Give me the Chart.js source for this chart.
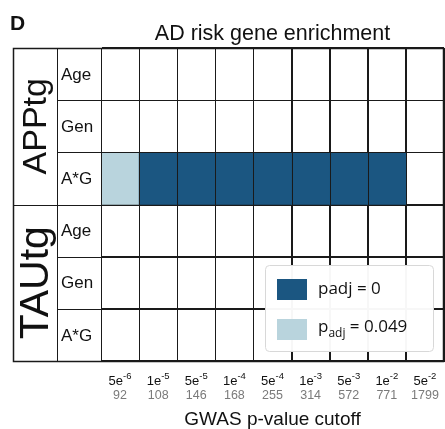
<!DOCTYPE html>
<html>
<head>
<meta charset="utf-8">
<script src="https://cdn.jsdelivr.net/npm/chart.js@4.4.1/dist/chart.umd.min.js"></script>
<style>
  html, body { margin: 0; padding: 0; background: #fff; }
  #wrap { width: 445px; height: 429px; position: relative; }
</style>
</head>
<body>
<div id="wrap"><canvas id="c" width="445" height="429"></canvas></div>
<script>
// ---- data ----
const panelLetter = "D";
const chartTitle = "AD risk gene enrichment";
const xTitle = "GWAS p-value cutoff";
const cutoffMantissa = ["5e", "1e", "5e", "1e", "5e", "1e", "5e", "1e", "5e"];
const cutoffExponent = ["-6", "-5", "-5", "-4", "-4", "-3", "-3", "-2", "-2"];
const geneCounts = [92, 108, 146, 168, 255, 314, 572, 771, 1799];
const groups = ["APPtg", "TAUtg"];
const terms = ["Age", "Gen", "A*G"];
// padj per cell (null = not significant / blank)
const padjAPPtgAge = [null, null, null, null, null, null, null, null, null];
const padjAPPtgGen = [null, null, null, null, null, null, null, null, null];
const padjAPPtgAxG = [0.049, 0, 0, 0, 0, 0, 0, 0, null];
const padjTAUtgAge = [null, null, null, null, null, null, null, null, null];
const padjTAUtgGen = [null, null, null, null, null, null, null, null, null];
const padjTAUtgAxG = [null, null, null, null, null, null, null, null, null];
const legendValues = [0, 0.049];

const DARK = "#1b5681";
const LIGHT = "#b9d4dd";
const colorFor = v => (v === 0 ? DARK : LIGHT);

const rowKeys = [];
groups.forEach(g => terms.forEach(t => rowKeys.push(g + "|" + t)));
const rowValues = [padjAPPtgAge, padjAPPtgGen, padjAPPtgAxG, padjTAUtgAge, padjTAUtgGen, padjTAUtgAxG];

function cellsFor(level) {
  const out = [];
  rowValues.forEach((vals, r) => {
    vals.forEach((v, c) => {
      if (v !== null && v === level) out.push({ x: [c, c + 1], y: rowKeys[r] });
    });
  });
  return out;
}

const datasets = legendValues.map(lv => ({
  label: "padj = " + lv,
  data: cellsFor(lv),
  backgroundColor: colorFor(lv),
  borderWidth: 0,
  barPercentage: 1,
  categoryPercentage: 1,
  grouped: false
}));

const SANS = "'Liberation Sans', Arial, Helvetica, sans-serif";
const LINE = "#1a1a1a";

const decor = {
  id: "decor",
  afterDatasetsDraw(chart) {
    const ctx = chart.ctx;
    const xs = chart.scales.x, ys = chart.scales.y;
    const area = chart.chartArea;
    ctx.save();
    ctx.strokeStyle = LINE;
    ctx.lineWidth = 1;
    ctx.beginPath();
    for (let c = 0; c <= cutoffMantissa.length; c++) {
      const x = Math.round(xs.getPixelForValue(c)) + 0.5;
      ctx.moveTo(x, area.top); ctx.lineTo(x, area.bottom);
    }
    const rowH = ys.getPixelForValue(1) - ys.getPixelForValue(0);
    for (let i = 0; i <= rowKeys.length; i++) {
      const y = Math.round(ys.getPixelForValue(i) - rowH / 2) + 0.5;
      ctx.moveTo(area.left, y); ctx.lineTo(area.right, y);
    }
    ctx.stroke();
    ctx.restore();
  },
  afterDraw(chart) {
    const ctx = chart.ctx;
    const xs = chart.scales.x, ys = chart.scales.y;
    const area = chart.chartArea;
    const rowH = ys.getPixelForValue(1) - ys.getPixelForValue(0);
    const rowTop = i => ys.getPixelForValue(i) - rowH / 2;
    const leftOuter = 13, groupCol = 57;
    ctx.save();
    ctx.strokeStyle = LINE;
    ctx.lineWidth = 1;
    ctx.beginPath();
    ctx.moveTo(leftOuter + 0.5, area.top); ctx.lineTo(leftOuter + 0.5, area.bottom);
    ctx.moveTo(groupCol + 0.5, area.top); ctx.lineTo(groupCol + 0.5, area.bottom);
    for (let i = 0; i <= rowKeys.length; i++) {
      const y = Math.round(rowTop(i)) + 0.5;
      const isGroupEdge = i % terms.length === 0;
      ctx.moveTo(isGroupEdge ? leftOuter : groupCol, y);
      ctx.lineTo(area.left, y);
    }
    ctx.stroke();
    ctx.lineWidth = 1.5;
    ctx.strokeRect(leftOuter + 0.5, Math.round(area.top) + 0.5, area.right - leftOuter - 1, Math.round(area.bottom - area.top));

    // term labels
    ctx.fillStyle = "#111";
    ctx.textAlign = "left";
    ctx.textBaseline = "middle";
    ctx.font = "17px " + SANS;
    rowKeys.forEach((k, i) => {
      const t = k.split("|")[1];
      ctx.fillText(t, 61, ys.getPixelForValue(i) + 1);
    });
    // group labels rotated
    const groupSizes = [34, 41];
    groups.forEach((g, gi) => {
      const top = rowTop(gi * terms.length), bot = rowTop((gi + 1) * terms.length);
      ctx.save();
      ctx.translate((leftOuter + groupCol) / 2 + 2, (top + bot) / 2);
      ctx.rotate(-Math.PI / 2);
      ctx.textAlign = "center";
      ctx.textBaseline = "middle";
      ctx.font = groupSizes[gi] + "px " + SANS;
      ctx.fillText(g, 0, 0);
      ctx.restore();
    });

    // bottom tick labels
    geneCounts.forEach((n, i) => {
      const cx = xs.getPixelForValue(i + 0.5);
      ctx.font = "13px " + SANS;
      const mw = ctx.measureText(cutoffMantissa[i]).width;
      ctx.font = "9.5px " + SANS;
      const ew = ctx.measureText(cutoffExponent[i]).width;
      const x0 = cx - (mw + ew) / 2;
      ctx.textAlign = "left";
      ctx.textBaseline = "alphabetic";
      ctx.fillStyle = "#111";
      ctx.font = "13px " + SANS;
      ctx.fillText(cutoffMantissa[i], x0, 385);
      ctx.font = "9.5px " + SANS;
      ctx.fillText(cutoffExponent[i], x0 + mw, 379);
      ctx.fillStyle = "#7a7a7a";
      ctx.font = "12.5px " + SANS;
      ctx.textAlign = "center";
      ctx.fillText(String(n), cx, 399);
    });
    // axis title
    ctx.fillStyle = "#111";
    ctx.textAlign = "center";
    ctx.font = "19px " + SANS;
    ctx.fillText(xTitle, (area.left + area.right) / 2, 425);
    // chart title
    ctx.font = "21.5px " + SANS;
    ctx.fillText(chartTitle, (area.left + area.right) / 2, 40);
    // panel letter
    ctx.textAlign = "left";
    ctx.font = "bold 21px " + SANS;
    ctx.fillText(panelLetter, 10, 30);

    // legend box
    const lx = 265, ly = 265, lw = 168, lh = 86;
    ctx.beginPath();
    if (ctx.roundRect) ctx.roundRect(lx + 0.5, ly + 0.5, lw, lh, 4); else ctx.rect(lx + 0.5, ly + 0.5, lw, lh);
    ctx.fillStyle = "rgba(255,255,255,0.97)";
    ctx.fill();
    ctx.strokeStyle = "#d8d8d8";
    ctx.lineWidth = 1;
    ctx.stroke();
    const LF = "'Open Sans', 'DejaVu Sans', sans-serif";
    ctx.fillStyle = colorFor(legendValues[0]);
    ctx.fillRect(277, 279, 30, 21);
    ctx.fillStyle = "#111";
    ctx.textAlign = "left";
    ctx.textBaseline = "middle";
    ctx.font = "17px " + LF;
    ctx.fillText("padj = " + legendValues[0], 318, 289);
    ctx.fillStyle = colorFor(legendValues[1]);
    ctx.fillRect(277, 319, 30, 21);
    ctx.fillStyle = "#111";
    ctx.font = "17px " + LF;
    ctx.fillText("p", 318, 327);
    const pw = ctx.measureText("p").width;
    ctx.font = "12px " + LF;
    ctx.fillText("adj", 318 + pw, 334);
    const aw = ctx.measureText("adj").width;
    ctx.font = "17px " + LF;
    ctx.fillText(" = " + legendValues[1], 318 + pw + aw, 327);
    ctx.restore();
  }
};

new Chart(document.getElementById("c"), {
  type: "bar",
  data: { labels: rowKeys, datasets },
  plugins: [decor],
  options: {
    indexAxis: "y",
    responsive: false,
    animation: false,
    layout: { padding: { left: 101, top: 48, right: 1, bottom: 68 } },
    plugins: { legend: { display: false }, title: { display: false }, tooltip: { enabled: false } },
    scales: {
      x: {
        type: "linear", min: 0, max: 9,
        ticks: { display: false, stepSize: 1 },
        grid: { color: LINE, lineWidth: 1, drawTicks: false },
        border: { display: true, color: LINE },
        afterFit: s => { s.height = 0; }
      },
      y: {
        type: "category", offset: true,
        ticks: { display: false },
        grid: { color: LINE, lineWidth: 1, drawTicks: false, offset: true },
        border: { display: true, color: LINE },
        afterFit: s => { s.width = 0; }
      }
    }
  }
});
</script>
</body>
</html>
